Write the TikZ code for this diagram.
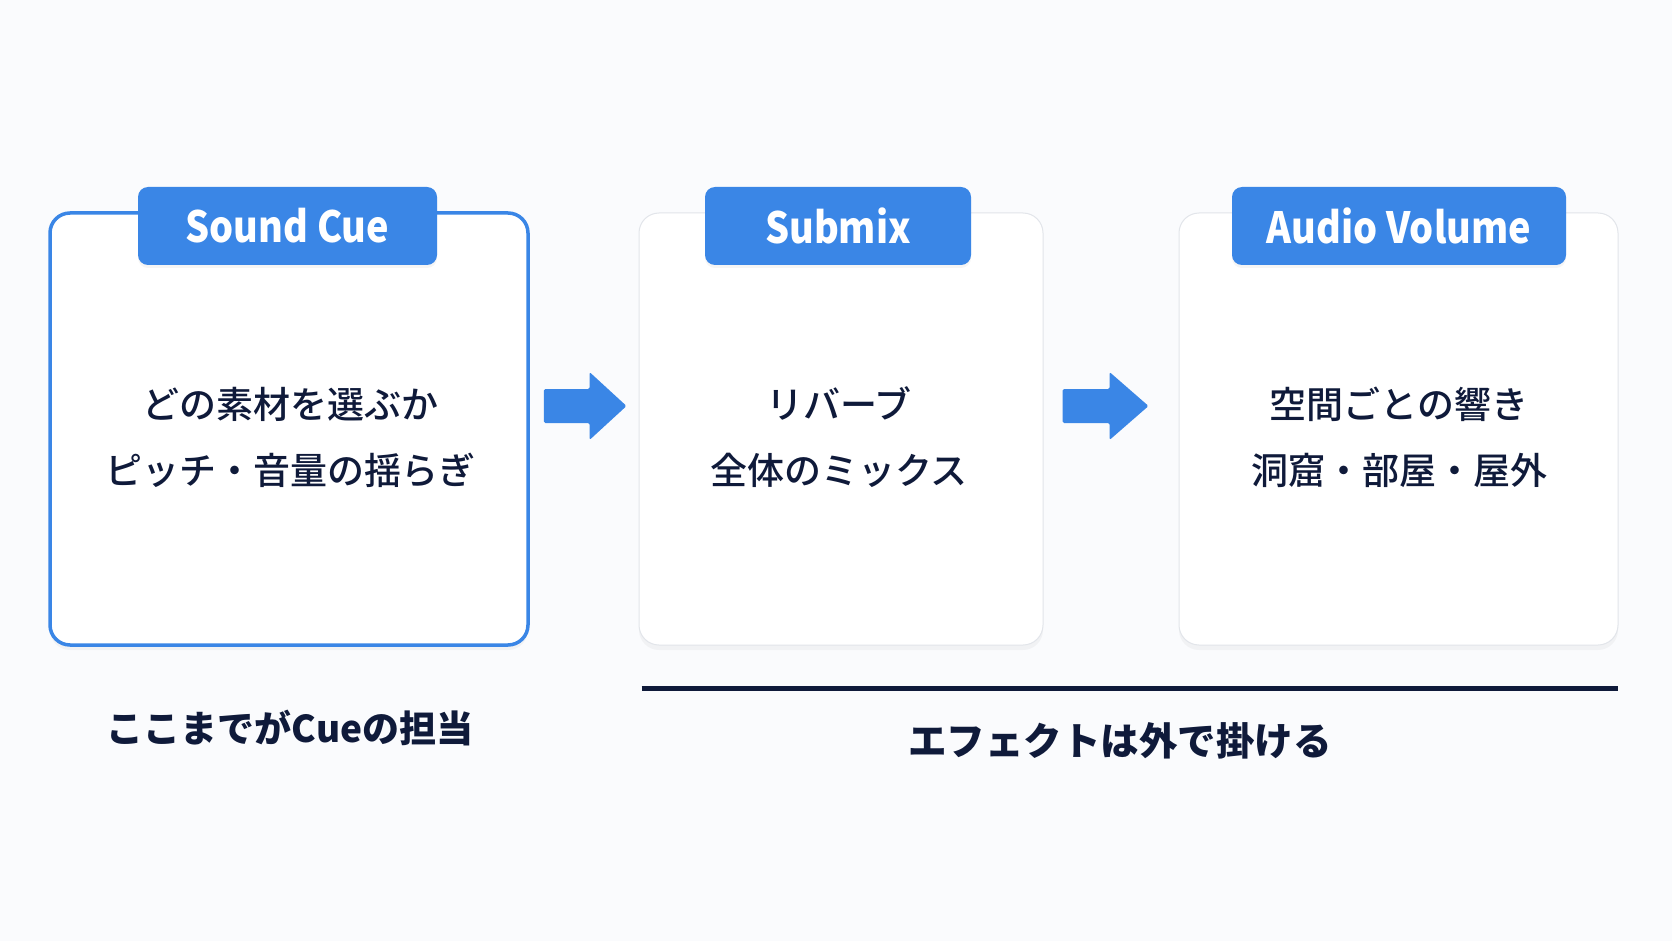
\documentclass[tikz,border=0pt]{standalone}
\usepackage{fontspec}
\setmainfont{Noto Sans CJK JP}
\newfontfamily\bodyfont{Noto Sans CJK JP Medium}
\newfontfamily\tabfont{Noto Sans CJK JP}[FakeStretch=0.88]
\usetikzlibrary{calc,shadows}
\definecolor{bgc}{HTML}{FAFBFD}
\definecolor{bluec}{HTML}{3A86E6}
\definecolor{navy}{HTML}{0F1A3A}
\definecolor{grayb}{HTML}{E2E5EA}
\tikzset{
  card/.style={draw=grayb, line width=1pt, fill=white, rounded corners=20pt,
    minimum height=432pt, inner sep=0pt,
    drop shadow={opacity=0.07, shadow xshift=0pt, shadow yshift=-5pt}},
  cardsel/.style={card, draw=bluec, line width=3.5pt},
  tab/.style={fill=bluec, rounded corners=10pt, minimum height=78pt, inner sep=0pt,
    text=white, font=\tabfont\bfseries\fontsize{43}{43}\selectfont,
    drop shadow={opacity=0.08, shadow xshift=0pt, shadow yshift=-3pt}},
  body/.style={text=navy, align=center, font=\bodyfont\fontsize{37}{66}\selectfont},
  lbl/.style={text=navy, font=\bfseries\fontsize{37}{40}\selectfont},
  flow/.style={fill=bluec, rounded corners=1.5pt},
  rule/.style={draw=navy, line width=4.5pt}
}
\begin{document}
\begin{tikzpicture}[x=1pt,y=-1pt]
\fill[bgc] (0,0) rectangle (1672,941);
\useasboundingbox (0,0) rectangle (1672,941);

\node[cardsel, minimum width=478pt] (b1) at (289,429) {};
\node[card, minimum width=404pt] (b2) at (841,429) {};
\node[card, minimum width=439pt] (b3) at (1398.5,429) {};

\node[tab, minimum width=299pt] (t1) at (287.5,226) {Sound Cue};
\node[tab, minimum width=266pt] (t2) at (838,226) {Submix};
\node[tab, minimum width=334pt] (t3) at (1399,226) {Audio Volume};

\node[body] (x1) at (290,437) {どの素材を選ぶか\\ピッチ・音量の揺らぎ};
\node[body] (x2) at (839,437) {リバーブ\\全体のミックス};
\node[body] (x3) at (1399,437) {空間ごとの響き\\洞窟・部屋・屋外};

% arrows
\coordinate (a1s) at ($(b1.east)+(14,-23)$);
\coordinate (a1e) at ($(b2.west)+(-12,-23)$);
\fill[flow] ($(a1s)+(0,-17)$) -- ($(a1e)+(-37,-17)$) -- ($(a1e)+(-37,-34)$) -- (a1e)
  -- ($(a1e)+(-37,34)$) -- ($(a1e)+(-37,17)$) -- ($(a1s)+(0,17)$) -- cycle;
\coordinate (a2s) at ($(b2.east)+(19,-23)$);
\coordinate (a2e) at ($(b3.west)+(-30,-23)$);
\fill[flow] ($(a2s)+(0,-17)$) -- ($(a2e)+(-39,-17)$) -- ($(a2e)+(-39,-34)$) -- (a2e)
  -- ($(a2e)+(-39,34)$) -- ($(a2e)+(-39,17)$) -- ($(a2s)+(0,17)$) -- cycle;

\draw[rule] ($(b2.south west)+(3,43)$) -- ($(b3.south east)+(-1,43)$);

\node[lbl] (l1) at (290,728) {ここまでがCueの担当};
\node[lbl, font=\bfseries\fontsize{38.5}{40}\selectfont] (l2) at (1120,741) {エフェクトは外で掛ける};
\end{tikzpicture}
\end{document}
